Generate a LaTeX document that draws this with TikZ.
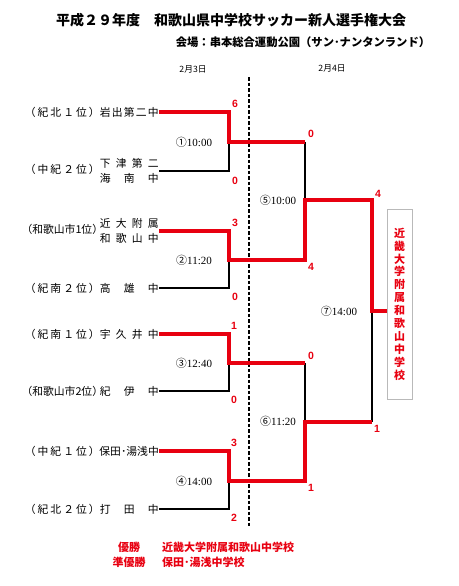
\documentclass[tikz,border=0pt]{standalone}
\usepackage{fontspec}
\setmainfont{Liberation Serif}
\newfontfamily\jp{Noto Sans CJK JP}
\newfontfamily\arial{Liberation Sans}
\usepackage{xcolor}
\usepackage{tikz}
\definecolor{bracketred}{RGB}{232,0,16}

\begin{document}
\begin{tikzpicture}[x=1pt, y=-1pt,
    team/.style={font=\jp\fontsize{10.8}{15}\selectfont, inner sep=0pt, anchor=east},
    score/.style={font=\arial\bfseries\fontsize{10.5}{10.5}\selectfont, text=bracketred, inner sep=0pt},
    kickoff/.style={font=\fontsize{11}{11}\selectfont, inner sep=0pt},
    win/.style={draw=bracketred, line width=3.6pt},
    lose/.style={draw=black, line width=1.8pt},
    result/.style={font=\jp\bfseries\fontsize{11}{11}\selectfont, text=bracketred, inner sep=0pt}]

    \useasboundingbox (0,0) rectangle (458,586);

    % Heading
    \node[font=\jp\bfseries\fontsize{14}{14}\selectfont, inner sep=0pt] (title) at (231,20)
        {平成２９年度　和歌山県中学校サッカー新人選手権大会};
    \node[font=\jp\bfseries\fontsize{11.3}{11.3}\selectfont, inner sep=0pt] (venue) at (303,42)
        {会場：串本総合運動公園（サン･ナンタンランド）};
    \node[font=\jp\fontsize{8.7}{8.7}\selectfont, inner sep=0pt] (day1) at (193,69) {2月3日};
    \node[font=\jp\fontsize{8.7}{8.7}\selectfont, inner sep=0pt] (day2) at (332,68) {2月4日};

    % Day separator
    \coordinate (dtop) at (249,77);
    \coordinate (dbot) at (249,527);
    \draw[line width=1.2pt, dash pattern=on 3.5pt off 2pt] (dtop) -- (dbot);

    % Teams (prefix 25..100, school 100..159)
    \node[team] (t1) at (159,112) {\makebox[75pt]{（\hfill 紀\hfill 北\hfill １\hfill 位\hfill ）}\makebox[59pt]{岩\hfill 出\hfill 第\hfill 二\hfill 中}};
    \node[team] (t2) at (159,171) {\makebox[75pt]{（\hfill 中\hfill 紀\hfill ２\hfill 位\hfill ）}\parbox[c]{59pt}{\makebox[59pt]{下\hfill 津\hfill 第\hfill 二}\\\makebox[59pt]{海\hfill 南\hfill 中}}};
    \node[team] (t3) at (159,231) {\makebox[75pt]{（\hfill 和歌山市1位\hfill ）}\parbox[c]{59pt}{\makebox[59pt]{近\hfill 大\hfill 附\hfill 属}\\\makebox[59pt]{和\hfill 歌\hfill 山\hfill 中}}};
    \node[team] (t4) at (159,288) {\makebox[75pt]{（\hfill 紀\hfill 南\hfill ２\hfill 位\hfill ）}\makebox[59pt]{高\hfill 雄\hfill 中}};
    \node[team] (t5) at (159,334) {\makebox[75pt]{（\hfill 紀\hfill 南\hfill １\hfill 位\hfill ）}\makebox[59pt]{宇\hfill 久\hfill 井\hfill 中}};
    \node[team] (t6) at (159,391) {\makebox[75pt]{（\hfill 和歌山市2位\hfill ）}\makebox[59pt]{紀\hfill 伊\hfill 中}};
    \node[team] (t7) at (159,451) {\makebox[75pt]{（\hfill 中\hfill 紀\hfill １\hfill 位\hfill ）}\makebox[59pt][r]{保田･湯浅中}};
    \node[team] (t8) at (159,509) {\makebox[75pt]{（\hfill 紀\hfill 北\hfill ２\hfill 位\hfill ）}\makebox[59pt]{打\hfill 田\hfill 中}};

    % Junctions
    \coordinate (j1) at (229,142);
    \coordinate (j2) at (229,260);
    \coordinate (j3) at (229,363);
    \coordinate (j4) at (229,481);
    \coordinate (j5) at (305,200);
    \coordinate (j6) at (305,422);
    \coordinate (j7) at (372,311);

    % Champion box
    \node[draw=gray!55, line width=0.7pt, minimum width=25pt, minimum height=190pt, inner sep=0pt,
        align=center, font=\jp\bfseries\fontsize{11}{12.9}\selectfont, text=bracketred] (champ) at (399.5,304)
        {近\\畿\\大\\学\\附\\属\\和\\歌\\山\\中\\学\\校};

    % Losing lines
    \draw[lose] (t2.east) -| (j1);
    \draw[lose] (t4.east) -| (j2);
    \draw[lose] (t6.east) -| (j3);
    \draw[lose] (t8.east) -| (j4);
    \draw[lose] (j1 -| j5) -- (j5);
    \draw[lose] (j3 -| j6) -- (j6);
    \draw[lose] (j6 -| j7) -- (j7);

    % Winning lines
    \draw[win] (t1.east) -| (j1) -- (j1 -| j5);
    \draw[win] (t3.east) -| (j2) -| (j5) -| (j7) -- (j7 -| champ.west);
    \draw[win] (t5.east) -| (j3) -- (j3 -| j6);
    \draw[win] (t7.east) -| (j4) -| (j6) -- (j6 -| j7);

    % Scores
    \foreach \n/\x/\y/\s in {1a/235/104/6, 1b/235/181/0, 2a/235/223/3, 2b/235/297/0,
        3a/234/326/1, 3b/234/400/0, 4a/234/443/3, 4b/234/518/2,
        5a/311/134/0, 5b/311/267/4, 6a/311/356/0, 6b/311/488/1,
        7a/378/194/4, 7b/377/429/1}
        \node[score] (s\n) at (\x,\y) {\s};

    % Kick-off times
    \foreach \n/\x/\y/\c/\t in {1/194/142/①/10:00, 2/194/260/②/11:20, 3/194/363/③/12:40,
        4/194/481/④/14:00, 5/278/200/⑤/10:00, 6/278/421/⑥/11:20, 7/339/311/⑦/14:00}
        \node[kickoff] (k\n) at (\x,\y) {{\jp\c}\t};

    % Results
    \node[result] (yusho) at (129,547) {優勝};
    \node[result] (junyusho) at (129,562) {準優勝};
    \node[result, anchor=west] (yushoname) at (162,547) {近畿大学附属和歌山中学校};
    \node[result, anchor=west] (junname) at (162,562) {保田･湯浅中学校};
\end{tikzpicture}
\end{document}
